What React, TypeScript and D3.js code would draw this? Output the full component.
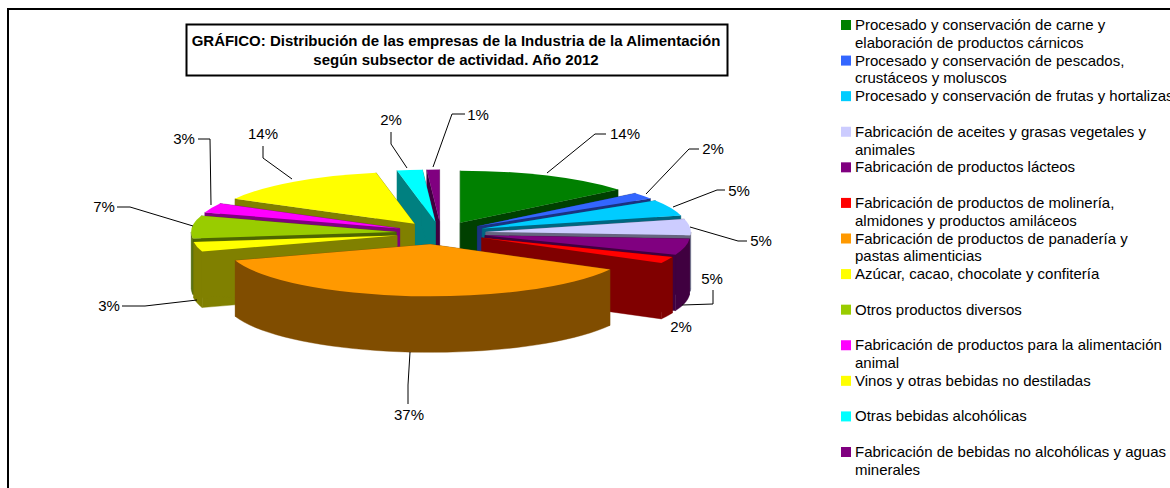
import React from "react";
import * as d3 from "d3";

const categories = [
  ["Procesado y conservación de carne y", "elaboración de productos cárnicos"],
  ["Procesado y conservación de pescados,", "crustáceos y moluscos"],
  ["Procesado y conservación de frutas y hortalizas"],
  ["Fabricación de aceites y grasas vegetales y", "animales"],
  ["Fabricación de productos lácteos"],
  ["Fabricación de productos de molinería,", "almidones y productos amiláceos"],
  ["Fabricación de productos de panadería y", "pastas alimenticias"],
  ["Azúcar, cacao, chocolate y confitería"],
  ["Otros productos diversos"],
  ["Fabricación de productos para la alimentación", "animal"],
  ["Vinos y otras bebidas no destiladas"],
  ["Otras bebidas alcohólicas"],
  ["Fabricación de bebidas no alcohólicas y aguas", "minerales"],
];
const shares = [14, 2, 5, 5, 5, 2, 37, 3, 7, 3, 14, 2, 1];
const topColors = ["#008000", "#3366FF", "#00CCFF", "#CCCCFF", "#800080", "#FF0000", "#FF9900", "#FFFF00", "#99CC00", "#FF00FF", "#FFFF00", "#00FFFF", "#800080"];
const wallColors = ["#004000", "#1A3380", "#006680", "#666680", "#400040", "#800000", "#804D00", "#808000", "#4D6600", "#800080", "#808000", "#008080", "#400040"];
const titleLines = ["GRÁFICO: Distribución de las empresas de la Industria de la Alimentación", "según subsector de actividad. Año 2012"];

// Layout only: label anchor and leader-line route for each slice
const labelLayout: { at: [number, number]; route: [number, number][] }[] = [
  { at: [625, 134], route: [[547, 173], [595, 134], [606, 134]] },
  { at: [713, 149], route: [[646, 194], [689, 149], [699, 149]] },
  { at: [739, 191], route: [[673, 207], [717, 190], [725, 190]] },
  { at: [761, 241], route: [[690, 227], [738, 241], [747, 241]] },
  { at: [712, 279], route: [[682, 305], [713, 304], [713, 290]] },
  { at: [681, 327], route: [] },
  { at: [409, 415], route: [[410, 352], [408, 385], [408, 404]] },
  { at: [109, 306], route: [[197, 300], [145, 306], [122, 306]] },
  { at: [104, 207], route: [[193, 226], [130, 207], [117, 207]] },
  { at: [184, 139], route: [[211, 205], [210, 139], [198, 139]] },
  { at: [263, 134], route: [[292, 179], [263, 158], [263, 146]] },
  { at: [391, 120], route: [[407, 168], [391, 144], [391, 132]] },
  { at: [478, 115], route: [[433, 167], [452, 114], [465, 114]] },
];
const sliceNudgeX = [0, 0, 0, 0, 0, 0, -6.5, 0, 0, 0, 0, 0, 0];

const CX = 441, CY = 233, RX = 205, KY = 52 / 205, DEPTH = 56, EXPLODE = 45;
const FONT = "'Liberation Sans', Arial, sans-serif";

const pie = d3.pie<number>().sort(null);
const arcs = pie(shares);
const topArc = d3.arc<any>().innerRadius(0).outerRadius(RX);
const lineGen = d3.line();

function wallPaths(a0: number, a1: number, ox: number, oy: number) {
  const pt = (a: number, dz: number): [number, number] => [ox + RX * Math.sin(a), oy - RX * KY * Math.cos(a) + dz];
  const paths: string[] = [];
  const c0: [number, number] = [ox, oy], c1: [number, number] = [ox, oy + DEPTH];
  paths.push(lineGen([c0, pt(a0, 0), pt(a0, DEPTH), c1])! + "Z");
  paths.push(lineGen([c0, pt(a1, 0), pt(a1, DEPTH), c1])! + "Z");
  const from = Math.max(a0, Math.PI / 2), to = Math.min(a1, (3 * Math.PI) / 2);
  if (to > from) {
    const ts = d3.range(0, 41).map((i) => from + ((to - from) * i) / 40);
    paths.push(lineGen([...ts.map((t) => pt(t, 0)), ...ts.slice().reverse().map((t) => pt(t, DEPTH))])! + "Z");
  }
  return paths;
}

const slices = arcs
  .map((a, i) => {
    const mid = (a.startAngle + a.endAngle) / 2;
    return { a, i, mid, ox: CX + EXPLODE * Math.sin(mid) + sliceNudgeX[i], oy: CY - EXPLODE * KY * Math.cos(mid) };
  })
  .sort((p, q) => -Math.cos(p.mid) - -Math.cos(q.mid));

export default function App() {
  const legendY = d3.scaleLinear().domain([0, 12]).range([25, 452]);
  return (
    <svg width={1170} height={488} viewBox="0 0 1170 488" style={{ position: "absolute", left: 0, top: 0, background: "#fff", display: "block" }} fontFamily={FONT}>
      <rect x={8} y={9} width={1300} height={600} fill="#fff" stroke="#000" strokeWidth={2} />
      <rect x={186.5} y={24.5} width={541} height={51} fill="#fff" stroke="#000" strokeWidth={2} />
      {titleLines.map((t, i) => (
        <text key={i} x={456} y={46 + i * 19} textAnchor="middle" fontSize={15} fontWeight="bold" fill="#000">{t}</text>
      ))}
      {slices.map(({ a, i, ox, oy }) => (
        <g key={i}>
          {wallPaths(a.startAngle, a.endAngle, ox, oy).map((d, j) => (
            <path key={j} d={d} fill={wallColors[i]} stroke={wallColors[i]} strokeWidth={0.4} />
          ))}
          <path d={topArc(a)!} transform={`translate(${ox},${oy}) scale(1,${KY})`} fill={topColors[i]} />
        </g>
      ))}
      {labelLayout.map((l, i) => (
        <g key={i}>
          {l.route.length > 0 && <path d={lineGen(l.route)!} fill="none" stroke="#000" strokeWidth={1} />}
          <text x={l.at[0]} y={l.at[1] + 5} textAnchor="middle" fontSize={15} fill="#000">{shares[i]}%</text>
        </g>
      ))}
      {categories.map((lines, i) => (
        <g key={i}>
          <rect x={841} y={legendY(i) - 5} width={10} height={10} fill={topColors[i]} />
          {lines.map((t, j) => (
            <text key={j} x={855} y={legendY(i) + 5 + j * 17.8} fontSize={15} fill="#000">{t}</text>
          ))}
        </g>
      ))}
    </svg>
  );
}
